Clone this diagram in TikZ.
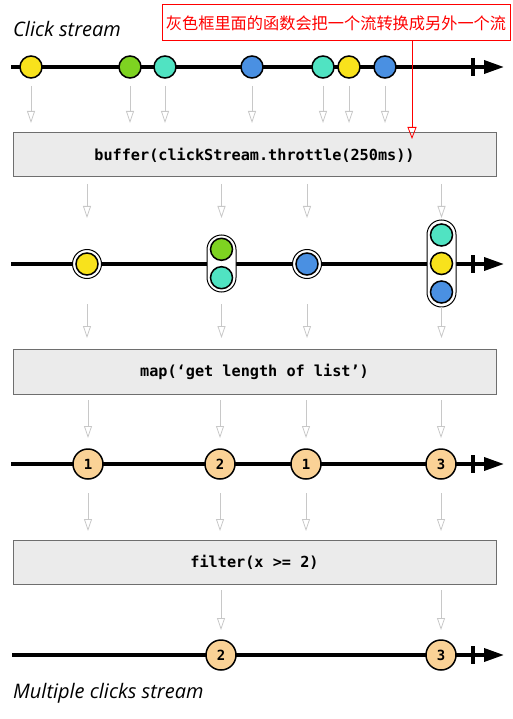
\documentclass[tikz,border=0pt]{standalone}
\usepackage{fontspec}
\setmainfont{Open Sans}
\newfontfamily\monob{DejaVu Sans Mono}
\newfontfamily\cjk{Noto Sans CJK SC}
\usetikzlibrary{arrows.meta,calc}
\definecolor{myyellow}{HTML}{F8E21C}
\definecolor{mygreen}{HTML}{7ED321}
\definecolor{myteal}{HTML}{50E3C2}
\definecolor{myblue}{HTML}{4A90E2}
\definecolor{myorange}{HTML}{FAD296}
\definecolor{boxfill}{HTML}{EBEBEB}
\definecolor{boxline}{HTML}{6E6E6E}
\definecolor{flowgray}{HTML}{C8C8C8}
\begin{document}
\begin{tikzpicture}[x=1pt,y=-1pt,
 marble/.style={circle,draw=black,line width=1.5pt,minimum size=22pt,inner sep=0pt},
 num/.style={circle,draw=black,line width=1.5pt,minimum size=30pt,fill=myorange,inner sep=0pt,font=\monob\bfseries\fontsize{14}{14}\selectfont},
 wrapc/.style={circle,draw=black,line width=1pt,fill=white,minimum size=29pt,inner sep=0pt},
 wrapr/.style={rectangle,draw=black,line width=1pt,fill=white,rounded corners=14.5pt,minimum width=29pt,inner sep=0pt},
 opbox/.style={draw=boxline,line width=1pt,fill=boxfill,minimum width=483pt,minimum height=44pt,inner sep=0pt,font=\monob\bfseries\fontsize{15.2}{15}\selectfont},
 flow/.style={draw=flowgray,line width=0.8pt,-{Triangle[open,length=12pt,width=8pt]}},
 stream/.style={line width=3.5pt,-{Triangle[length=20pt,width=13pt]}},
 tick/.style={line width=3.5pt},
 title/.style={anchor=west,inner sep=0pt,font=\itshape\fontsize{20}{20}\selectfont},
]
\useasboundingbox (0,0) rectangle (512,719);

% stream lines
\coordinate (s1a) at (11,67);  \coordinate (s1b) at (504,67);
\coordinate (s2a) at (11,264); \coordinate (s2b) at (504,264);
\coordinate (s3a) at (11,464); \coordinate (s3b) at (504,464);
\coordinate (s4a) at (12,655); \coordinate (s4b) at (504,655);
\draw[stream] (s1a) -- (s1b);
\draw[stream] (s2a) -- (s2b);
\draw[stream] (s3a) -- (s3b);
\draw[stream] (s4a) -- (s4b);
\foreach \y in {67,264,464,655} \draw[tick] (473,\y-9) -- (473,\y+9);

% titles
\node[title] (t1) at (13,29) {Click stream};
\node[title] (t2) at (13,693) {Multiple clicks stream};

% stream 1
\node[marble,fill=myyellow] (a1) at (31,67) {};
\node[marble,fill=mygreen]  (a2) at (130,67) {};
\node[marble,fill=myteal]   (a3) at (165,67) {};
\node[marble,fill=myblue]   (a4) at (252,67) {};
\node[marble,fill=myteal]   (a5) at (323,67) {};
\node[marble,fill=myyellow] (a6) at (349,67) {};
\node[marble,fill=myblue]   (a7) at (385,67) {};

% boxes
\node[opbox] (b1) at (254.5,155) {buffer(clickStream.throttle(250ms))};
\node[opbox,minimum height=45pt] (b2) at (254.5,371.5) {map(‘get length of list’)};
\node[opbox] (b3) at (254.5,562) {filter(x >= 2)};

% stream 2
\node[wrapc] (w1) at (87,264) {};
\node[marble,fill=myyellow] (c1) at (w1) {};
\node[wrapr,minimum height=57pt] (w2) at (221.5,263.5) {};
\node[marble,fill=mygreen] (c2) at (221.5,249.3) {};
\node[marble,fill=myteal]  (c3) at (221.5,277.7) {};
\node[wrapc] (w3) at (307,264) {};
\node[marble,fill=myblue] (c4) at (w3) {};
\node[wrapr,minimum height=87pt] (w4) at (441.5,263.5) {};
\node[marble,fill=myteal]   (c5) at (441.5,235) {};
\node[marble,fill=myyellow] (c6) at (441.5,263.5) {};
\node[marble,fill=myblue]   (c7) at (441.5,292) {};

% stream 3
\node[num] (n1) at (88,464) {1};
\node[num] (n2) at (220,464) {2};
\node[num] (n3) at (306,464) {1};
\node[num] (n4) at (441,464) {3};

% stream 4
\node[num] (m1) at (221,655) {2};
\node[num] (m2) at (441,655) {3};

% row coordinates for arrow ends
\coordinate (r1s) at (0,86);  \coordinate (r1e) at (0,123);
\coordinate (r2s) at (0,184); \coordinate (r2e) at (0,218);
\coordinate (r3s) at (0,304); \coordinate (r3e) at (0,338);
\coordinate (r4s) at (0,400); \coordinate (r4e) at (0,438);
\coordinate (r5s) at (0,493); \coordinate (r5e) at (0,531);
\coordinate (r6s) at (0,590); \coordinate (r6e) at (0,630);

\foreach \m in {a1,a2,a3,a4,a5,a6,a7} \draw[flow] (\m |- r1s) -- (\m |- r1e);
\foreach \m in {w1,w2,w3,w4} \draw[flow] (\m |- r2s) -- (\m |- r2e);
\foreach \m in {w1,w2,w3} \draw[flow] (\m |- r3s) -- (\m |- r3e);
\draw[flow] (w4.south) ++(0,-1) -- (w4 |- r3e);
\foreach \m in {n1,n2,n3,n4} \draw[flow] (\m |- r4s) -- (\m |- r4e);
\foreach \m in {n1,n2,n3,n4} \draw[flow] (\m |- r5s) -- (\m |- r5e);
\foreach \m in {m1,m2} \draw[flow] (\m |- r6s) -- (\m |- r6e);

% annotation
\node[draw=red,line width=1pt,text=red,minimum width=348pt,minimum height=36pt,inner sep=0pt,font=\cjk\fontsize{16.2}{17}\selectfont] (note) at (336,23) {灰色框里面的函数会把一个流转换成另外一个流};
\coordinate (redtip) at (412,139);
\draw[red,line width=0.8pt,-{Triangle[open,length=12pt,width=9pt]}] (note.south -| redtip) -- (redtip);
\end{tikzpicture}
\end{document}
